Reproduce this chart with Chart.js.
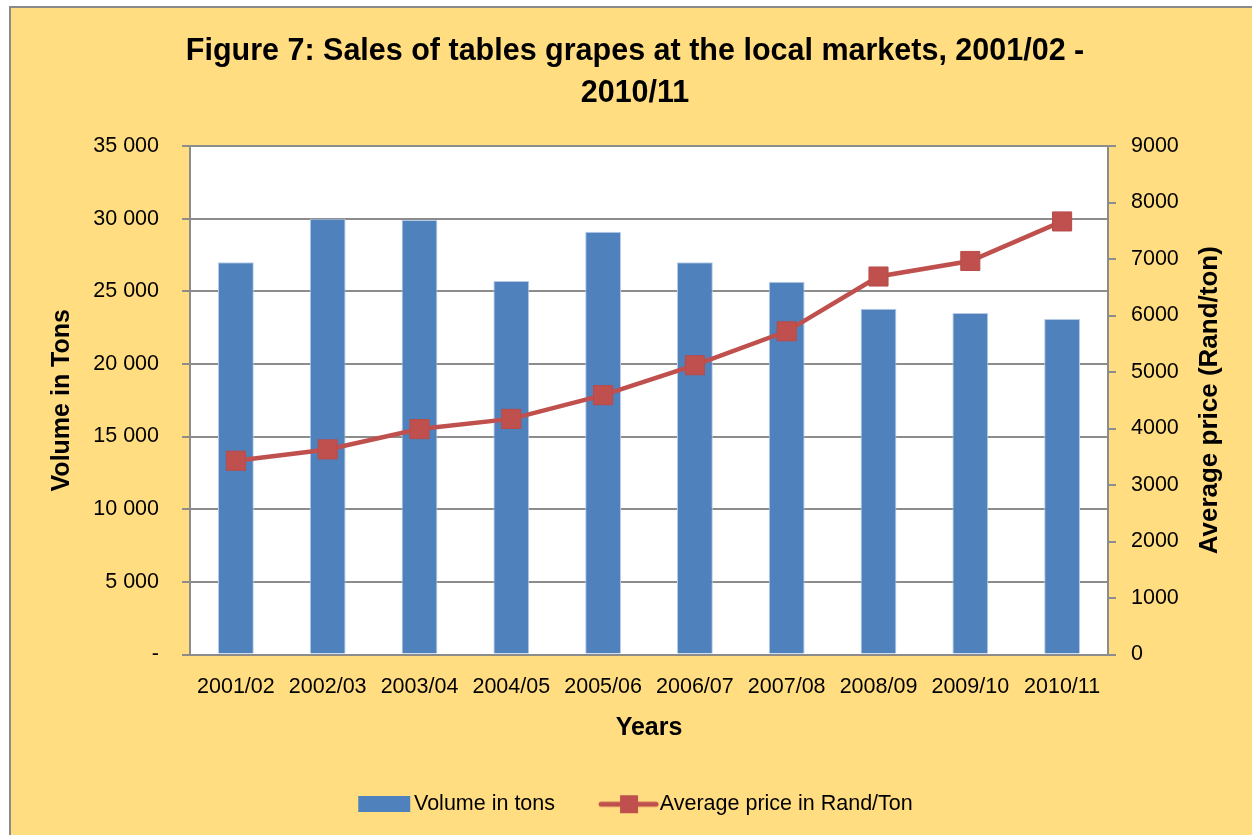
<!DOCTYPE html>
<html>
<head>
<meta charset="utf-8">
<script src="https://cdn.jsdelivr.net/npm/chart.js@4.4.1/dist/chart.umd.min.js"></script>
<style>
  html, body { margin: 0; padding: 0; background: #ffffff; }
  #wrap { width: 1252px; height: 835px; }
</style>
</head>
<body>
<div id="wrap"><canvas id="grapeChart" width="1252" height="835"></canvas></div>
<script>
// =============================================================================
// DATA
// =============================================================================

const seasons = ['2001/02', '2002/03', '2003/04', '2004/05', '2005/06',
                 '2006/07', '2007/08', '2008/09', '2009/10', '2010/11'];

// Volume in tons (left axis)
const volumeTons = [27000, 30000, 29900, 25700, 29100, 27000, 25650, 23800, 23500, 23100];

// Average price in Rand/ton (right axis)
const avgPrice = [3430, 3630, 3990, 4170, 4590, 5120, 5720, 6690, 6965, 7665];

const chartTitle = ['Figure 7: Sales of tables grapes at the local markets, 2001/02 -', '2010/11'];
const leftAxisTitle = 'Volume in Tons';
const rightAxisTitle = 'Average price (Rand/ton)';
const xAxisTitle = 'Years';

// =============================================================================
// STYLE
// =============================================================================

const FONT = "'Liberation Sans', Arial, sans-serif";
const YELLOW = '#FFDD80';
const GRID = '#8c8c8c';
const BLUE = '#4F81BD';
const RED = '#C0504D';

// legend swatches drawn as small canvases (transparent margin on the left)
function makeBarSwatch() {
    let c = document.createElement('canvas');
    c.width = 64; c.height = 16;
    let g = c.getContext('2d');
    g.fillStyle = BLUE;
    g.fillRect(10, 0, 52, 16);
    return c;
}

function makeLineSwatch() {
    let c = document.createElement('canvas');
    c.width = 68; c.height = 20;
    let g = c.getContext('2d');
    g.strokeStyle = RED;
    g.lineWidth = 5;
    g.lineCap = 'round';
    g.beginPath();
    g.moveTo(9, 10);
    g.lineTo(64, 10);
    g.stroke();
    g.fillStyle = RED;
    g.fillRect(28, 1, 18, 18);
    return c;
}

// background: yellow chart box with grey border, white plot area
const backgroundPlugin = {
    id: 'background',
    beforeDraw(chart) {
        let ctx = chart.ctx;
        let a = chart.chartArea;
        ctx.save();
        ctx.fillStyle = '#ffffff';
        ctx.fillRect(0, 0, chart.width, chart.height);
        ctx.fillStyle = YELLOW;
        ctx.fillRect(10, 7, chart.width - 10, chart.height - 7);
        ctx.strokeStyle = '#8a8a8a';
        ctx.lineWidth = 2;
        ctx.beginPath();
        ctx.moveTo(10, chart.height);
        ctx.lineTo(10, 7);
        ctx.lineTo(chart.width, 7);
        ctx.stroke();
        ctx.fillStyle = '#ffffff';
        ctx.fillRect(a.left, a.top, a.right - a.left, a.bottom - a.top);
        ctx.restore();
    }
};

// right axis title reads bottom-to-top like the left one
const rightTitlePlugin = {
    id: 'rightTitle',
    afterDraw(chart) {
        let ctx = chart.ctx;
        let a = chart.chartArea;
        ctx.save();
        ctx.translate(1210, (a.top + a.bottom) / 2);
        ctx.rotate(-Math.PI / 2);
        ctx.font = 'bold 26px ' + FONT;
        ctx.fillStyle = '#000';
        ctx.textAlign = 'center';
        ctx.textBaseline = 'middle';
        ctx.fillText(rightAxisTitle, 0, 0);
        ctx.restore();
    }
};

function formatThousands(v) {
    if (v === 0) return '-';
    return String(v).replace(/\B(?=(\d{3})+(?!\d))/g, ' ');
}

// =============================================================================
// CHART
// =============================================================================

function createChart() {
    let ctx = document.getElementById('grapeChart').getContext('2d');
    const barSwatch = makeBarSwatch();
    const lineSwatch = makeLineSwatch();

    return new Chart(ctx, {
        data: {
            labels: seasons,
            datasets: [
                {
                    type: 'bar',
                    label: 'Volume in tons',
                    data: volumeTons,
                    yAxisID: 'y',
                    backgroundColor: BLUE,
                    borderColor: '#B7CBE6',
                    borderWidth: 1,
                    barPercentage: 0.39,
                    categoryPercentage: 1,
                    order: 2
                },
                {
                    type: 'line',
                    label: 'Average price in Rand/Ton',
                    data: avgPrice,
                    yAxisID: 'y1',
                    borderColor: RED,
                    borderWidth: 4.5,
                    backgroundColor: RED,
                    pointStyle: 'rect',
                    pointRadius: 13.5,
                    pointBackgroundColor: RED,
                    pointBorderColor: '#B94B48',
                    pointBorderWidth: 1,
                    tension: 0,
                    order: 1
                }
            ]
        },
        options: {
            responsive: false,
            animation: false,
            events: [],
            layout: { padding: { top: 7, left: 18, right: 0, bottom: 10 } },
            plugins: {
                title: {
                    display: true,
                    text: chartTitle,
                    color: '#000',
                    font: { family: FONT, size: 30.5, weight: 'bold', lineHeight: '42px' },
                    padding: { top: 24, bottom: 31 }
                },
                legend: {
                    position: 'bottom',
                    labels: {
                        color: '#000',
                        font: { family: FONT, size: 21.5 },
                        usePointStyle: true,
                        pointStyleWidth: 46,
                        padding: 48,
                        sort: (a, b) => a.datasetIndex - b.datasetIndex,
                        generateLabels(chart) {
                            let items = Chart.defaults.plugins.legend.labels.generateLabels(chart);
                            items.forEach(item => {
                                item.pointStyle = item.datasetIndex === 0 ? barSwatch : lineSwatch;
                            });
                            return items;
                        }
                    }
                },
                tooltip: { enabled: false }
            },
            scales: {
                x: {
                    grid: { display: false, drawTicks: false },
                    border: { display: true, color: GRID, width: 2 },
                    ticks: { color: '#000', padding: 20, maxRotation: 0, minRotation: 0, autoSkip: false,
                             font: { family: FONT, size: 21.5 } },
                    title: {
                        display: true,
                        text: xAxisTitle,
                        color: '#000',
                        font: { family: FONT, size: 25, weight: 'bold', lineHeight: '25px' },
                        padding: { top: 0, bottom: 4.5 }
                    },
                    afterFit(scale) { scale.height = 91; }
                },
                y: {
                    position: 'left',
                    min: 0,
                    max: 35000,
                    ticks: {
                        stepSize: 5000,
                        color: '#000',
                        padding: 23,
                        font: { family: FONT, size: 21.5 },
                        callback: (v) => formatThousands(v)
                    },
                    grid: { color: GRID, lineWidth: 2, tickLength: 8 },
                    border: { color: GRID, width: 2 },
                    title: {
                        display: true,
                        text: leftAxisTitle,
                        color: '#000',
                        font: { family: FONT, size: 25, weight: 'bold', lineHeight: '25px' },
                        padding: { top: 31.5, bottom: 0 }
                    },
                    afterFit(scale) { scale.width = 172; }
                },
                y1: {
                    position: 'right',
                    min: 0,
                    max: 9000,
                    ticks: {
                        stepSize: 1000,
                        color: '#000',
                        padding: 15,
                        font: { family: FONT, size: 21.5 },
                        callback: (v) => String(v)
                    },
                    grid: { display: true, drawOnChartArea: false, drawTicks: true, color: GRID, lineWidth: 2, tickLength: 8 },
                    border: { color: GRID, width: 2 },
                    afterFit(scale) { scale.width = 144; }
                }
            }
        },
        plugins: [backgroundPlugin, rightTitlePlugin]
    });
}

window.addEventListener('DOMContentLoaded', () => {
    createChart();
});
</script>
</body>
</html>
